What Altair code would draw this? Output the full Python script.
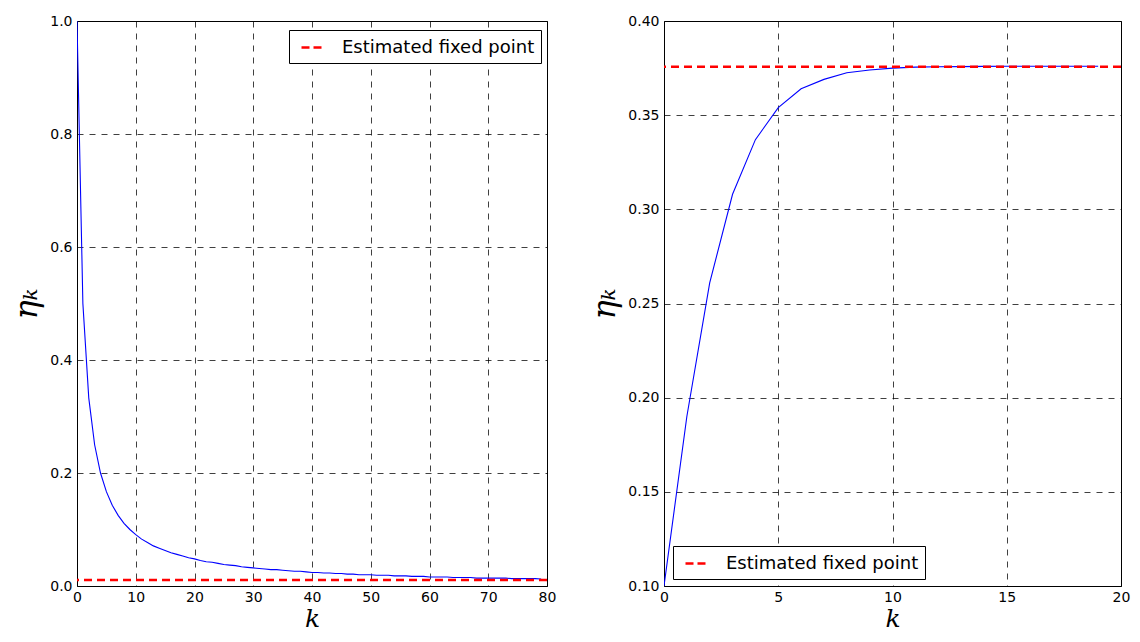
import altair as alt
import pandas as pd

# ---- data ----
k_left = list(range(80))
eta_left = [1.000, 0.500, 0.333, 0.250, 0.200, 0.167, 0.143, 0.125, 0.111, 0.100,
            0.091, 0.083, 0.077, 0.071, 0.067, 0.063, 0.059, 0.056, 0.053, 0.050,
            0.048, 0.045, 0.043, 0.042, 0.040, 0.038, 0.037, 0.036, 0.034, 0.033,
            0.032, 0.031, 0.030, 0.029, 0.029, 0.028, 0.027, 0.026, 0.026, 0.025,
            0.024, 0.024, 0.023, 0.023, 0.022, 0.022, 0.021, 0.021, 0.020, 0.020,
            0.020, 0.019, 0.019, 0.019, 0.018, 0.018, 0.018, 0.017, 0.017, 0.017,
            0.016, 0.016, 0.016, 0.016, 0.015, 0.015, 0.015, 0.015, 0.014, 0.014,
            0.014, 0.014, 0.014, 0.014, 0.013, 0.013, 0.013, 0.013, 0.013, 0.0125]
fixed_left = 0.0105

k_right = list(range(20))
eta_right = [0.100, 0.190, 0.261, 0.308, 0.337, 0.354, 0.364, 0.369, 0.3725, 0.374,
             0.375, 0.3755, 0.3757, 0.3758, 0.3759, 0.376, 0.376, 0.376, 0.376, 0.376]
fixed_right = 0.3757

legend_label = "Estimated fixed point"
x_ticks_left = [0, 10, 20, 30, 40, 50, 60, 70, 80]
y_ticks_left = [0.0, 0.2, 0.4, 0.6, 0.8, 1.0]
x_ticks_right = [0, 5, 10, 15, 20]
y_ticks_right = [0.10, 0.15, 0.20, 0.25, 0.30, 0.35, 0.40]

left_df = pd.DataFrame({"k": k_left, "eta": eta_left})
right_df = pd.DataFrame({"k": k_right, "eta": eta_right})
left_fix = pd.DataFrame({"eta": [fixed_left], "series": [legend_label]})
right_fix = pd.DataFrame({"eta": [fixed_right], "series": [legend_label]})

TITLE_FONT = "DejaVu Serif"


def panel(df, fix, xdom, ydom, xt, yt, yfmt, lx, ly, w, h):
    x = alt.X("k:Q", scale=alt.Scale(domain=xdom, nice=False, zero=False),
              axis=alt.Axis(values=xt, format="d", title="k", titlePadding=2,
                            titleFontSize=25, labelPadding=4))
    y = alt.Y("eta:Q", scale=alt.Scale(domain=ydom, nice=False, zero=False),
              axis=alt.Axis(values=yt, format=yfmt, title="ηₖ", titlePadding=6,
                            titleFontSize=32, labelPadding=5))
    line = alt.Chart(df).mark_line(color="#0000ff", strokeWidth=1.1, clip=True).encode(x=x, y=y)
    rule = alt.Chart(fix).mark_rule(strokeWidth=2.5, strokeDash=[8, 5]).encode(
        y=alt.Y("eta:Q"),
        color=alt.Color("series:N", scale=alt.Scale(range=["#ff0000"]),
                        legend=alt.Legend(
                            orient="none", legendX=lx, legendY=ly,
                            title=None, symbolType="stroke",
                            symbolDash=[8, 4], symbolStrokeWidth=2.5, symbolSize=400,
                            symbolOffset=5,
                            strokeColor="black", fillColor="white", padding=6,
                            labelFont="DejaVu Sans", labelFontSize=18, labelColor="black",
                            labelLimit=400, labelOffset=19, cornerRadius=0)),
    )
    return alt.layer(line, rule).properties(width=w, height=h)


left = panel(left_df, left_fix, [0, 80], [0, 1.0], x_ticks_left, y_ticks_left, ".1f",
             212, 9, 470, 565)
right = panel(right_df, right_fix, [0, 20], [0.10, 0.40], x_ticks_right, y_ticks_right, ".2f",
              9, 525, 457, 565)

chart = alt.hconcat(left, right, spacing=31).resolve_scale(
    color="independent", x="independent", y="independent"
).resolve_legend(color="independent").properties(
    padding={"left": 2, "top": 5, "right": 0, "bottom": 0}, background="white"
).configure_view(
    stroke="black", strokeWidth=1
).configure_axis(
    labelFont="DejaVu Sans", labelFontSize=14, labelColor="black",
    labelFlush=False,
    ticks=False, domain=False,
    grid=True, gridColor="black", gridDash=[6, 6], gridOpacity=0.75, gridWidth=1,
    titleFont=TITLE_FONT, titleFontStyle="italic", titleFontWeight="normal",
    titleColor="black",
)

chart.save("out.html", embed_options={"renderer": "svg", "actions": False})
